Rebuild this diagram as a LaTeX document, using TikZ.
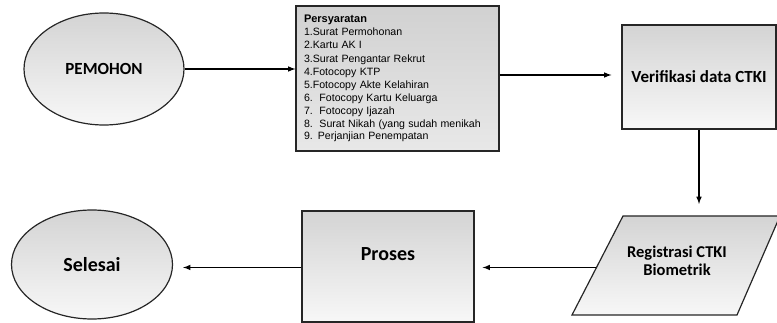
\documentclass[tikz,border=0pt]{standalone}
\usepackage{fontspec}
\setmainfont{Carlito}
\newfontfamily\listfont{Liberation Sans}
\usetikzlibrary{shapes.geometric, calc}

\begin{document}
\begin{tikzpicture}[x=1pt, y=-1pt,
    box/.style={draw=black!85, line width=1.2pt, top color=black!17, bottom color=black!3},
    flow/.style={->, >=latex, line width=1.5pt}]
            \useasboundingbox (0, 0) rectangle (777, 323);

            \node[box, ellipse, minimum width=160pt, minimum height=112pt, font=\fontsize{17}{20}\selectfont\bfseries] (pemohon) at (104, 69) {PEMOHON};

            \node[box, rectangle, top color=black!18, bottom color=black!9, minimum width=203pt, minimum height=145pt, text width=187pt, align=left, inner xsep=8pt] (syarat) at (397.5, 78.5)
                {\listfont\fontsize{10.6}{13.1}\selectfont{\bfseries\fontsize{11}{13.1}\selectfont Persyaratan}\\
                 1.Surat Permohonan\\
                 2.Kartu AK I\\
                 3.Surat Pengantar Rekrut\\
                 4.Fotocopy KTP\\
                 5.Fotocopy Akte Kelahiran\\
                 6.\ \ Fotocopy Kartu Keluarga\\
                 7.\ \ Fotocopy Ijazah\\
                 8.\ \ Surat Nikah (yang sudah menikah\\
                 9. Perjanjian Penempatan};

            \node[box, rectangle, minimum width=154pt, minimum height=104pt, font=\fontsize{17}{20}\selectfont\bfseries] (verif) at (699, 77) {Verifikasi data CTKI};

            % registrasi parallelogram
            \coordinate (regTL) at (623, 216);
            \coordinate (regTR) at (780, 216);
            \coordinate (regBR) at (737, 315);
            \coordinate (regBL) at (572, 315);
            \coordinate (regW) at ($(regBL)!0.48!(regTL)$);
            \draw[box] (regTL) -- (regTR) -- (regBR) -- (regBL) -- cycle;
            \node[align=center, font=\fontsize{16.5}{18.5}\selectfont\bfseries] (regis) at (677, 261) {Registrasi CTKI\\Biometrik};

            \node[box, rectangle, minimum width=172pt, minimum height=111pt, text depth=24pt, font=\fontsize{20}{24}\selectfont\bfseries] (proses) at (388, 266.5) {Proses};

            \node[box, ellipse, minimum width=161pt, minimum height=109pt, font=\fontsize{20}{24}\selectfont\bfseries] (selesai) at (92, 264.5) {Selesai};

            \draw [flow] (pemohon.east) -- (pemohon.east -| syarat.west);
            \draw [flow, shorten >=10pt] (syarat.east |- 0, 75) -- (verif.west |- 0, 75);
            \draw [flow, shorten >=12pt] (verif.south) -- (verif.south |- regTL);
            \draw [flow, shorten >=8pt] (regW) -- (proses.east |- regW);
            \draw [flow, shorten >=10pt] (proses.west |- regW) -- (selesai.east |- regW);
          \end{tikzpicture}
\end{document}
